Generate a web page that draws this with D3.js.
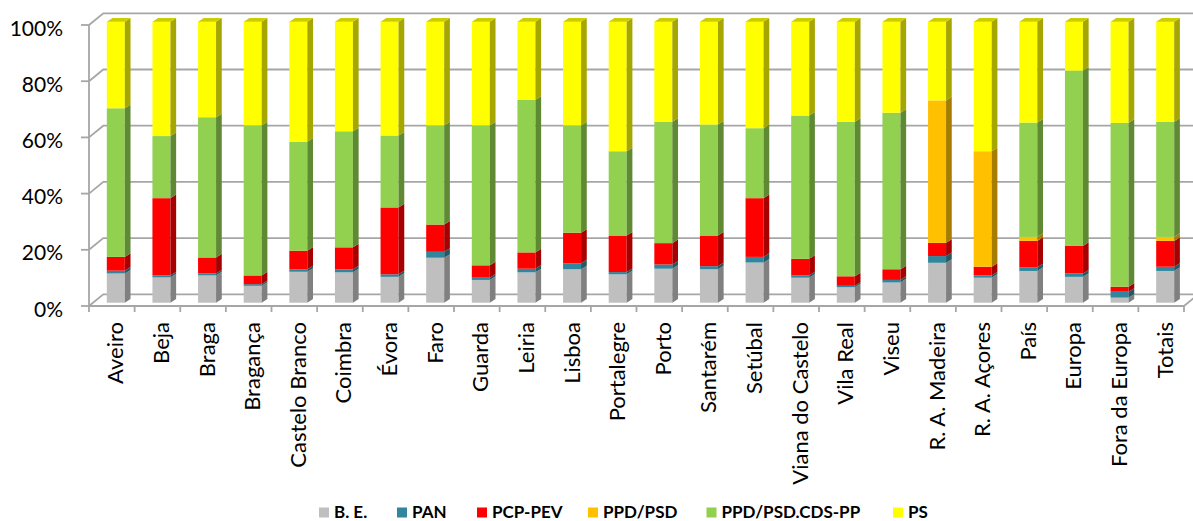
<!DOCTYPE html>
<html><head><meta charset="utf-8">
<script src="https://cdn.jsdelivr.net/npm/d3@7/dist/d3.min.js"></script>
<style>body{margin:0;background:#fff}svg{display:block}</style>
</head><body>
<svg id="c" width="1193" height="521"></svg>
<script>
const categories = ["Aveiro","Beja","Braga","Bragança","Castelo Branco","Coimbra","Évora","Faro","Guarda","Leiria","Lisboa","Portalegre","Porto","Santarém","Setúbal","Viana do Castelo","Vila Real","Viseu","R. A. Madeira","R. A. Açores","País","Europa","Fora da Europa","Totais"];
const seriesNames = ["B. E.","PAN","PCP-PEV","PPD/PSD","PPD/PSD.CDS-PP","PS"];
const be     = [10.4,9.0,9.7,6.0,11.0,10.8,9.2,16.0,8.1,10.8,11.9,10.1,12.1,11.9,14.3,8.9,5.5,7.2,14.2,8.9,11.3,9.2,1.8,11.3];
const pan    = [1.0,0.7,0.7,0.6,0.9,1.1,0.9,2.1,0.8,1.3,2.1,0.8,1.5,1.1,2.0,0.8,0.5,0.9,2.4,0.8,1.3,1.2,2.1,1.5];
const pcp    = [4.9,27.5,5.7,3.1,6.6,7.8,23.8,9.7,4.4,5.8,10.9,13.0,7.6,10.9,20.9,5.9,3.4,3.8,4.7,3.1,9.4,9.8,1.8,9.2];
const ppd    = [0,0,0,0,0,0,0,0,0,0,0,0,0,0,0,0,0,0,50.7,41.1,1.4,0,0,1.4];
const ppdcds = [52.9,22.1,49.9,53.4,38.8,41.3,25.6,35.3,49.8,54.3,38.2,30.0,43.2,39.5,24.9,51.0,55.0,55.7,0,0,40.7,62.4,58.3,41.0];
const ps     = [30.8,40.7,34.0,36.9,42.7,39.0,40.5,36.9,36.9,27.8,36.9,46.1,35.6,36.6,37.9,33.4,35.6,32.4,28.0,46.1,35.9,17.4,36.0,35.6];
const yTicks = [0,0.2,0.4,0.6,0.8,1.0];

const colors = ["#BFBFBF","#31859C","#FF0000","#FFC000","#92D050","#FFFF00"];
const sideColors = ["#808080","#215966","#A60000","#A67D00","#5F8A33","#A6A600"];
const topColors = ["#9A9A9A","#27697A","#CC0000","#CC9A00","#75A640","#CCCC00"];

const svg = d3.select("#c");
const FONT = "Lato, 'Open Sans', sans-serif";

// 3D geometry
const dX = 14.3, dY = -11.7;           // wall depth
const x = d3.scaleBand().domain(categories).range([89, 1184]).padding(0);
const yF = d3.scaleLinear().domain([0,1]).range([306, 25]);   // front plane
const yB = v => yF(v) + dY;                                    // back wall

const gGrid = svg.append("g");
yTicks.forEach(v => {
  gGrid.append("path")
    .attr("d", `M89,${yF(v)} L${89+dX},${yB(v)} L1197,${yB(v)}`)
    .attr("fill","none").attr("stroke","#A6A6A6").attr("stroke-width",1.8);
});
gGrid.append("path").attr("d",`M1184,306 L${1184+dX},${306+dY}`)
  .attr("fill","none").attr("stroke","#A6A6A6").attr("stroke-width",1.8);

// front axes
const gAx = svg.append("g");
gAx.append("line").attr("x1",89).attr("x2",89).attr("y1",yF(1)).attr("y2",yF(0))
  .attr("stroke","#A6A6A6").attr("stroke-width",1.8);
gAx.append("line").attr("x1",89).attr("x2",1184).attr("y1",yF(0)).attr("y2",yF(0))
  .attr("stroke","#A6A6A6").attr("stroke-width",1.8);
yTicks.forEach(v => {
  gAx.append("line").attr("x1",81).attr("x2",89).attr("y1",yF(v)).attr("y2",yF(v))
    .attr("stroke","#A6A6A6").attr("stroke-width",1.8);
  gAx.append("text").attr("x",63).attr("y",yF(v)+2)
    .attr("text-anchor","end").attr("dominant-baseline","central")
    .attr("font-family",FONT).attr("font-size",21).attr("fill","#000")
    .text(d3.format(".0%")(v));
});
d3.range(categories.length+1).forEach(i => {
  const xx = 89 + i*x.step();
  gAx.append("line").attr("x1",xx).attr("x2",xx).attr("y1",306).attr("y2",312)
    .attr("stroke","#A6A6A6").attr("stroke-width",1.8);
});

// bars
const series = [be,pan,pcp,ppd,ppdcds,ps];
const bw = 18, offX = 4, offY = -3.3, sdx = 5.7, sdy = -3.6;
const yBar = v => yF(v) + offY;
const gBars = svg.append("g");
categories.forEach((c,i) => {
  const total = d3.sum(series, s => s[i]);
  const cx = x(c) + x.bandwidth()/2 + offX;
  const x0 = cx - bw/2, x1 = cx + bw/2;
  let acc = 0;
  let lastIdx = -1;
  series.forEach((s,k) => { if (s[i] > 0) lastIdx = k; });
  series.forEach((s,k) => {
    const v = s[i]/total;
    if (v <= 0) return;
    const v0 = acc, v1 = acc + v; acc = v1;
    const ya = yBar(v0), yb = yBar(v1);
    gBars.append("rect").attr("x",x0).attr("y",yb).attr("width",bw).attr("height",ya-yb)
      .attr("fill",colors[k]);
    gBars.append("path")
      .attr("d",`M${x1},${ya} L${x1},${yb} L${x1+sdx},${yb+sdy} L${x1+sdx},${ya+sdy} Z`)
      .attr("fill",sideColors[k]);
    if (k === lastIdx) {
      gBars.append("path")
        .attr("d",`M${x0},${yb} L${x1},${yb} L${x1+sdx},${yb+sdy} L${x0+sdx},${yb+sdy} Z`)
        .attr("fill",topColors[k]);
    }
  });
});

// category labels
const gLab = svg.append("g");
categories.forEach(c => {
  const cx = x(c) + x.bandwidth()/2 + 3;
  gLab.append("text")
    .attr("transform",`translate(${cx},322) rotate(-90)`)
    .attr("text-anchor","end").attr("dominant-baseline","central")
    .attr("font-family",FONT).attr("font-size",22).attr("fill","#000")
    .text(c);
});

// legend
const legX = [319,397,477,588,706.5,893];
const gLeg = svg.append("g");
seriesNames.forEach((n,k) => {
  gLeg.append("rect").attr("x",legX[k]).attr("y",507.5).attr("width",10).attr("height",10).attr("fill",colors[k]);
  gLeg.append("text").attr("x",legX[k]+15).attr("y",517.5)
    .attr("font-family",FONT).attr("font-weight","bold").attr("font-size",17).attr("fill","#000")
    .text(n);
});
</script>
</body></html>
